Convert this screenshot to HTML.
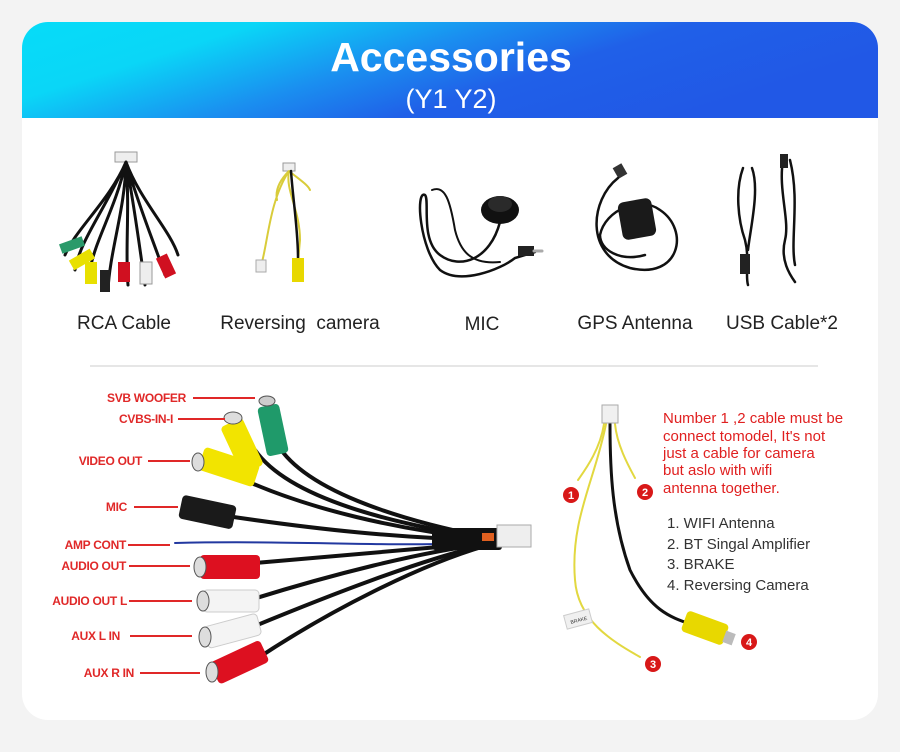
<!DOCTYPE html>
<html><head><meta charset="utf-8"><style>
html,body{margin:0;padding:0;background:#f3f3f3;width:900px;height:752px;overflow:hidden}
svg{display:block}
text{font-family:"Liberation Sans",sans-serif}
</style></head><body>
<svg width="900" height="752" viewBox="0 0 900 752">
<defs>
<linearGradient id="hg" x1="0" y1="0" x2="1" y2="0.35">
<stop offset="0" stop-color="#06dcf8"/><stop offset="0.25" stop-color="#0ad6f7"/>
<stop offset="0.5" stop-color="#1a8ff0"/><stop offset="0.7" stop-color="#2060e8"/><stop offset="1" stop-color="#2158e6"/></linearGradient>
</defs>
<rect x="22" y="22" width="856" height="698" rx="26" fill="#fff"/>
<path d="M22 118 V48 a26 26 0 0 1 26 -26 H852 a26 26 0 0 1 26 26 V118 Z" fill="url(#hg)"/>
<text x="451" y="71" text-anchor="middle" font-size="41" font-weight="bold" fill="#fff">Accessories</text>
<text x="451" y="108" text-anchor="middle" font-size="27" fill="#fff">(Y1 Y2)</text>

<g stroke-linecap="round" fill="none">
<rect x="115" y="152" width="22" height="10" fill="#eee" stroke="#999"/>
<path d="M126 162 C110 200 75 230 65 255 M126 162 C105 210 80 240 75 270 M126 162 C115 210 95 240 90 270 M126 162 C125 210 110 250 108 290 M126 162 C130 210 125 250 128 285 M126 162 C135 210 140 250 145 285 M126 162 C140 210 155 245 165 275 M126 162 C140 200 170 230 178 255" stroke="#111" stroke-width="3"/>
<rect x="60" y="240" width="24" height="10" fill="#2a9a6a" transform="rotate(-20 72 245)"/>
<rect x="70" y="255" width="24" height="11" fill="#e8e000" transform="rotate(-30 80 260)"/>
<rect x="85" y="262" width="12" height="22" fill="#e8e000"/>
<rect x="118" y="262" width="12" height="20" fill="#d01020"/>
<rect x="140" y="262" width="12" height="22" fill="#eee" stroke="#999"/>
<rect x="160" y="255" width="12" height="22" fill="#d01020" transform="rotate(-25 166 266)"/>
<rect x="100" y="270" width="10" height="22" fill="#222"/>
<rect x="283" y="163" width="12" height="8" fill="#eee" stroke="#999"/>
<path d="M289 171 C285 190 300 210 300 240 L298 262 M289 171 C280 180 275 190 277 200 M289 171 C300 180 308 185 310 190 M289 171 C270 200 268 240 262 262" stroke="#d9cc3a" stroke-width="2"/>
<path d="M291 171 C293 200 298 230 298 258" stroke="#111" stroke-width="2.5"/>
<rect x="292" y="258" width="12" height="24" fill="#e8d800"/>
<rect x="256" y="260" width="10" height="12" fill="#eee" stroke="#aaa"/>
<ellipse cx="500" cy="210" rx="19" ry="14" fill="#111"/>
<ellipse cx="500" cy="204" rx="12" ry="8" fill="#2a2a2a"/>
<path d="M500 222 C490 260 460 270 440 255 C420 240 430 200 425 195 C415 190 420 250 440 270 C460 285 500 270 515 258 L535 252" stroke="#111" stroke-width="2.5"/>
<path d="M432 190 C445 185 450 200 455 230 C460 250 470 265 500 262" stroke="#111" stroke-width="2"/>
<rect x="518" y="246" width="16" height="10" fill="#222"/><path d="M534 251 H542" stroke="#aaa" stroke-width="3"/>
<rect x="615" y="165" width="10" height="12" fill="#333" transform="rotate(-30 620 171)"/>
<path d="M618 178 C590 200 585 255 630 268 C680 280 690 230 660 210 C640 195 605 210 600 235 C600 250 620 262 645 255" stroke="#111" stroke-width="2.5"/>
<rect x="620" y="200" width="34" height="38" rx="6" fill="#1a1a1a" transform="rotate(-10 637 219)"/>
<path d="M743 168 C735 190 738 220 745 240 C750 260 745 275 748 285 M752 168 C760 190 750 230 748 250" stroke="#111" stroke-width="2.5"/>
<path d="M783 160 C778 190 790 220 785 240 C780 260 790 275 795 282 M790 160 C800 200 790 240 795 265" stroke="#111" stroke-width="2.5"/>
<rect x="740" y="254" width="10" height="20" fill="#222"/>
<rect x="780" y="154" width="8" height="14" fill="#222"/>
</g>
<g font-size="19" fill="#222" text-anchor="middle">
<text x="124" y="329">RCA Cable</text>
<text x="300" y="329">Reversing&#160; camera</text>
<text x="482" y="330">MIC</text>
<text x="635" y="329">GPS Antenna</text>
<text x="782" y="329">USB Cable*2</text>
</g>
<line x1="90" y1="366" x2="818" y2="366" stroke="#ddd" stroke-width="1.5"/>

<g fill="none" stroke-linecap="round">
<path d="M275 440 C300 490 400 520 485 537" stroke="#111" stroke-width="4"/>
<path d="M255 450 C290 500 400 525 485 538" stroke="#111" stroke-width="4"/>
<path d="M240 478 C310 510 400 530 485 539" stroke="#111" stroke-width="4"/>
<path d="M220 515 C320 530 400 538 485 540" stroke="#111" stroke-width="4"/>
<path d="M175 543 C300 540 400 548 485 542" stroke="#2238a0" stroke-width="2"/>
<path d="M255 563 C340 555 420 548 485 543" stroke="#111" stroke-width="4"/>
<path d="M250 600 C330 575 420 552 485 544" stroke="#111" stroke-width="4"/>
<path d="M250 628 C330 595 420 560 485 545" stroke="#111" stroke-width="4"/>
<path d="M255 660 C330 610 420 565 485 546" stroke="#111" stroke-width="4"/>
</g>
<rect x="432" y="528" width="70" height="22" rx="3" fill="#111"/>
<rect x="497" y="525" width="34" height="22" fill="#eee" stroke="#aaa"/>
<rect x="482" y="533" width="12" height="8" fill="#e06020"/>
<g>
<rect x="262" y="405" width="22" height="50" rx="4" fill="#1f9a6a" transform="rotate(-12 273 430)"/>
<ellipse cx="267" cy="401" rx="8" ry="5" fill="#ccc" stroke="#555"/>
<rect x="230" y="420" width="24" height="52" rx="4" fill="#f2e400" transform="rotate(-25 242 446)"/>
<ellipse cx="233" cy="418" rx="9" ry="6" fill="#ddd" stroke="#555"/>
<rect x="200" y="455" width="58" height="24" rx="4" fill="#f2e400" transform="rotate(18 229 467)"/>
<ellipse cx="198" cy="462" rx="6" ry="9" fill="#ddd" stroke="#555"/>
<rect x="180" y="500" width="55" height="24" rx="4" fill="#1a1a1a" transform="rotate(12 207 512)"/>
<rect x="200" y="555" width="60" height="24" rx="4" fill="#dd1020"/>
<ellipse cx="200" cy="567" rx="6" ry="10" fill="#ddd" stroke="#555"/>
<rect x="203" y="590" width="56" height="22" rx="4" fill="#f4f4f4" stroke="#ccc"/>
<ellipse cx="203" cy="601" rx="6" ry="10" fill="#ddd" stroke="#555"/>
<rect x="205" y="620" width="55" height="22" rx="4" fill="#f4f4f4" stroke="#ccc" transform="rotate(-15 232 631)"/>
<ellipse cx="205" cy="637" rx="6" ry="10" fill="#ddd" stroke="#555"/>
<rect x="212" y="650" width="55" height="24" rx="4" fill="#dd1020" transform="rotate(-25 240 662)"/>
<ellipse cx="212" cy="672" rx="6" ry="10" fill="#ddd" stroke="#555"/>
</g>
<g stroke="#e02828" stroke-width="2">
<line x1="193" y1="398" x2="255" y2="398"/><line x1="178" y1="419" x2="225" y2="419"/>
<line x1="148" y1="461" x2="190" y2="461"/><line x1="134" y1="507" x2="178" y2="507"/>
<line x1="128" y1="545" x2="170" y2="545"/><line x1="129" y1="566" x2="190" y2="566"/>
<line x1="129" y1="601" x2="192" y2="601"/><line x1="130" y1="636" x2="192" y2="636"/>
<line x1="140" y1="673" x2="200" y2="673"/>
</g>
<g font-size="12" font-weight="bold" fill="#e02828" text-anchor="end" letter-spacing="-0.3">
<text x="186" y="402">SVB WOOFER</text><text x="173" y="423">CVBS-IN-I</text>
<text x="142" y="465">VIDEO OUT</text><text x="127" y="511">MIC</text>
<text x="126" y="549">AMP CONT</text><text x="126" y="570">AUDIO OUT</text>
<text x="127" y="605">AUDIO OUT L</text><text x="120" y="640">AUX L IN</text>
<text x="134" y="677">AUX R IN</text>
</g>

<g fill="none" stroke-linecap="round">
<path d="M604 424 C600 450 585 470 578 480" stroke="#e2d840" stroke-width="2"/>
<path d="M615 424 C617 445 628 465 635 478" stroke="#e2d840" stroke-width="2"/>
<path d="M606 424 C595 480 570 520 575 580 C578 620 610 640 640 657" stroke="#e2d840" stroke-width="2"/>
<path d="M610 424 C610 470 612 520 630 570 C650 610 670 617 690 624" stroke="#111" stroke-width="3"/>
</g>
<rect x="602" y="405" width="16" height="18" fill="#f0f0f0" stroke="#aaa"/>
<rect x="565" y="612" width="26" height="14" fill="#f0f0f0" stroke="#ccc" transform="rotate(-15 578 619)"/>
<text x="570" y="622" font-size="5" fill="#333" transform="rotate(-15 578 619)">BRAKE</text>
<rect x="683" y="617" width="44" height="22" rx="4" fill="#e8d800" transform="rotate(20 705 628)"/>
<rect x="724" y="632" width="10" height="12" fill="#bbb" transform="rotate(20 729 638)"/>
<g fill="#d81818">
<circle cx="571" cy="495" r="8"/><circle cx="645" cy="492" r="8"/>
<circle cx="653" cy="664" r="8"/><circle cx="749" cy="642" r="8"/>
</g>
<g font-size="11" font-weight="bold" fill="#fff" text-anchor="middle">
<text x="571" y="499">1</text><text x="645" y="496">2</text><text x="653" y="668">3</text><text x="749" y="646">4</text>
</g>
<g font-size="15" fill="#e02020">
<text x="663" y="423">Number 1 ,2 cable must be</text>
<text x="663" y="441">connect tomodel, It's not</text>
<text x="663" y="458">just a cable for camera</text>
<text x="663" y="475">but aslo with wifi</text>
<text x="663" y="493">antenna together.</text>
</g>
<g font-size="15" fill="#333">
<text x="667" y="528">1. WIFI Antenna</text>
<text x="667" y="549">2. BT Singal Amplifier</text>
<text x="667" y="569">3. BRAKE</text>
<text x="667" y="590">4. Reversing Camera</text>
</g>
</svg>
</body></html>
